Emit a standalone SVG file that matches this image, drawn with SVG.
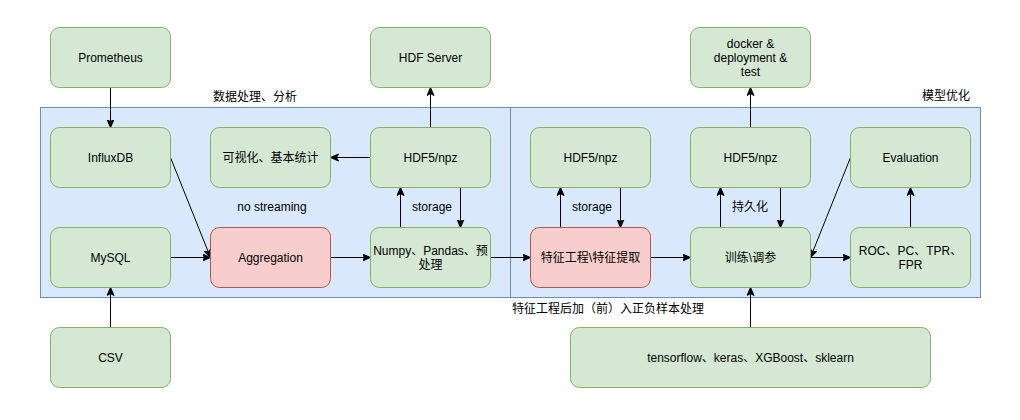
<svg xmlns="http://www.w3.org/2000/svg" width="1020" height="420" viewBox="0 0 1020 420">
<style>
text{font-family:"Liberation Sans","Noto Sans CJK SC",sans-serif;font-size:12px;fill:#000;text-anchor:middle}
.g{fill:#d5e8d4;stroke:#82b366;stroke-width:1}
.r{fill:#f8cecc;stroke:#b85450;stroke-width:1}
.c{fill:#dae8fc;stroke:#6c8ebf;stroke-width:1}
.e{fill:none;stroke:#000;stroke-width:1;marker-end:url(#a)}
</style>
<defs>
<marker id="a" markerUnits="userSpaceOnUse" markerWidth="10" markerHeight="10" refX="8" refY="4" orient="auto">
<path d="M0,0.5 L8,4 L0,7.5 L2,4 z" fill="#000" stroke="#000" stroke-width="1"/>
</marker>
</defs>
<rect fill="#fff" width="1020" height="420"/>
<g id="container-left"><rect class="c" x="40.5" y="107.5" width="470" height="190"/></g>
<g id="container-right"><rect class="c" x="510.5" y="107.5" width="470" height="190"/></g>
<g id="labels">
<text x="255" y="101">数据处理、分析</text>
<text x="970" y="100" style="text-anchor:end">模型优化</text>
<text x="272" y="211">no streaming</text>
<text x="432" y="211">storage</text>
<text x="592" y="211">storage</text>
<text x="750" y="211">持久化</text>
<text x="608" y="313">特征工程后加（前）入正负样本处理</text>
</g>
<g id="connectors">
<path class="e" d="M110.5,87.5 L110.5,127.5"/>
<path class="e" d="M170.5,157.5 L210.5,257.5"/>
<path class="e" d="M170.5,257.5 L210.5,257.5"/>
<path class="e" d="M110.5,327.5 L110.5,287.5"/>
<path class="e" d="M330.5,257.5 L370.5,257.5"/>
<path class="e" d="M370.5,157.5 L330.5,157.5"/>
<path class="e" d="M400.5,227.5 L400.5,187.5"/>
<path class="e" d="M460.5,187.5 L460.5,227.5"/>
<path class="e" d="M430.5,127.5 L430.5,87.5"/>
<path class="e" d="M490.5,257.5 L530.5,257.5"/>
<path class="e" d="M560.5,227.5 L560.5,187.5"/>
<path class="e" d="M620.5,187.5 L620.5,227.5"/>
<path class="e" d="M650.5,257.5 L690.5,257.5"/>
<path class="e" d="M720.5,227.5 L720.5,187.5"/>
<path class="e" d="M780.5,187.5 L780.5,227.5"/>
<path class="e" d="M750.5,127.5 L750.5,87.5"/>
<path class="e" d="M810.5,257.5 L850.5,257.5"/>
<path class="e" d="M910.5,227.5 L910.5,187.5"/>
<path class="e" d="M850.5,157.5 L810.5,257.5"/>
<path class="e" d="M750.5,327.5 L750.5,287.5"/>
</g>
<g id="prometheus"><rect class="g" x="50.5" y="27.5" width="120" height="60" rx="9"/><text x="110.5" y="61.5">Prometheus</text></g>
<g id="hdf-server"><rect class="g" x="370.5" y="27.5" width="120" height="60" rx="9"/><text x="430.5" y="61.5">HDF Server</text></g>
<g id="docker"><rect class="g" x="690.5" y="27.5" width="120" height="60" rx="9"/><text x="750.5" y="48">docker &amp;</text><text x="750.5" y="62">deployment &amp;</text><text x="750.5" y="76">test</text></g>
<g id="influxdb"><rect class="g" x="50.5" y="127.5" width="120" height="60" rx="9"/><text x="110.5" y="161.5">InfluxDB</text></g>
<g id="visual"><rect class="g" x="210.5" y="127.5" width="120" height="60" rx="9"/><text x="270.5" y="161.5">可视化、基本统计</text></g>
<g id="hdf5-1"><rect class="g" x="370.5" y="127.5" width="120" height="60" rx="9"/><text x="430.5" y="161.5">HDF5/npz</text></g>
<g id="hdf5-2"><rect class="g" x="530.5" y="127.5" width="120" height="60" rx="9"/><text x="590.5" y="161.5">HDF5/npz</text></g>
<g id="hdf5-3"><rect class="g" x="690.5" y="127.5" width="120" height="60" rx="9"/><text x="750.5" y="161.5">HDF5/npz</text></g>
<g id="evaluation"><rect class="g" x="850.5" y="127.5" width="120" height="60" rx="9"/><text x="910.5" y="161.5">Evaluation</text></g>
<g id="mysql"><rect class="g" x="50.5" y="227.5" width="120" height="60" rx="9"/><text x="110.5" y="261.5">MySQL</text></g>
<g id="aggregation"><rect class="r" x="210.5" y="227.5" width="120" height="60" rx="9"/><text x="270.5" y="261.5">Aggregation</text></g>
<g id="numpy"><rect class="g" x="370.5" y="227.5" width="120" height="60" rx="9"/><text x="430.5" y="255">Numpy、Pandas、预</text><text x="430.5" y="268.5">处理</text></g>
<g id="feature"><rect class="r" x="530.5" y="227.5" width="120" height="60" rx="9"/><text x="590.5" y="261.5">特征工程\特征提取</text></g>
<g id="train"><rect class="g" x="690.5" y="227.5" width="120" height="60" rx="9"/><text x="750.5" y="261.5">训练\调参</text></g>
<g id="roc"><rect class="g" x="850.5" y="227.5" width="120" height="60" rx="9"/><text x="910.5" y="255">ROC、PC、TPR、</text><text x="910.5" y="268.5">FPR</text></g>
<g id="csv"><rect class="g" x="50.5" y="327.5" width="120" height="60" rx="9"/><text x="110.5" y="361.5">CSV</text></g>
<g id="libs"><rect class="g" x="570.5" y="327.5" width="360" height="60" rx="9"/><text x="750.5" y="361.5">tensorflow、keras、XGBoost、sklearn</text></g>
</svg>
